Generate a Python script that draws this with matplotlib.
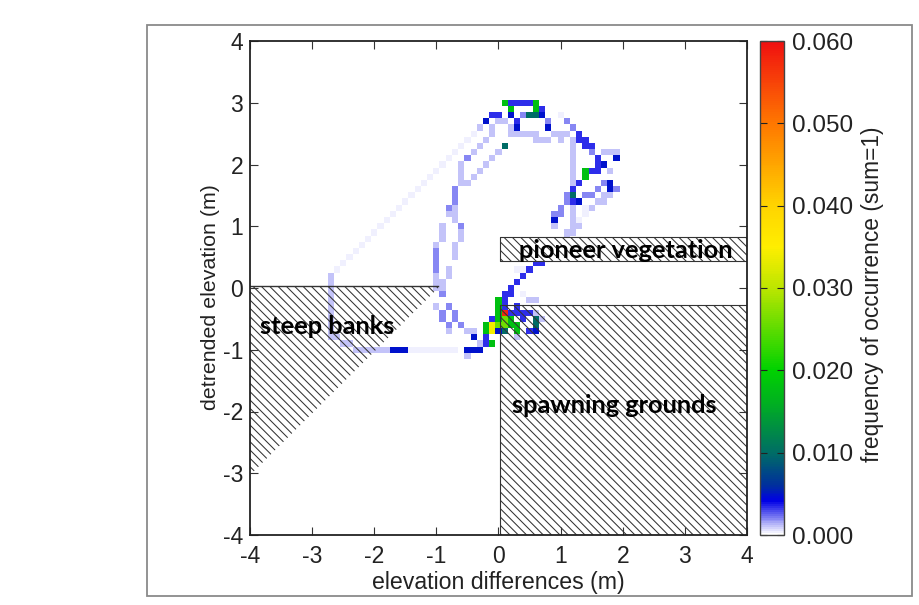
import numpy as np
import matplotlib
matplotlib.use("Agg")
import matplotlib.pyplot as plt
from matplotlib.colors import LinearSegmentedColormap, Normalize
from matplotlib.patches import Rectangle

plt.rcParams['font.family'] = ['Liberation Sans', 'DejaVu Sans']
plt.rcParams['hatch.linewidth'] = 0.75
plt.rcParams['axes.unicode_minus'] = False

x_ticks = [-4, -3, -2, -1, 0, 1, 2, 3, 4]
y_ticks = [-4, -3, -2, -1, 0, 1, 2, 3, 4]
cbar_ticks = [0.0, 0.01, 0.02, 0.03, 0.04, 0.05, 0.06]
cbar_labels = ['0.000', '0.010', '0.020', '0.030', '0.040', '0.050', '0.060']

# occurrence cells (x, y) grouped by frequency class
freq_faint = 0.0004
cells_faint = [(-2.6,.3),(-2.5,.4),(-2.4,.5),(-2.3,.6),(-2.2,.7),(-2.1,.8),(-2.0,.9),(-1.9,1.0),
               (-1.8,1.1),(-1.7,1.2),(-1.6,1.3),(-1.5,1.4),(-1.4,1.5),(-1.3,1.6),(-1.2,1.7),(-1.1,1.8),
               (-1.0,1.9),(-1.4,-1.0),(-1.3,-1.0),(-1.2,-1.0),(-1.1,-1.0),(-1.0,-1.0),(-.9,-1.0),(-.8,-1.0),
               (-.7,-1.0),(1.4,1.2),(1.3,1.1),(1.4,1.3),(.3,.3),(.4,.3),(.4,-.1),(.5,.5),(1.0,2.8),(-.4,2.5),
               (-.5,2.4),(-.6,2.3),(-.7,2.2),(-.8,2.1),(-.9,2.0)]
freq_light = 0.001
cells_light = [(-2.7,.2),(-2.7,.1),(-2.7,0),(-2.7,-.1),(-2.7,-.2),(-2.7,-.3),(-2.7,-.4),(-2.7,-.5),
               (-2.7,-.6),(-2.7,-.7),(-2.7,-.8),(-2.6,-.8),(-2.5,-.9),(-2.4,-.9),(-2.3,-1.0),(-2.2,-1.0),
               (-2.1,-1.0),(-2.0,-1.0),(-1.9,-1.0),(-1.8,-1.0),(-1.0,.2),(-1.0,.1),(-1.0,.0),(-1.0,-.3),
               (-.9,.1),(-.9,.0),(-.8,.3),(-.8,.2),(-.7,.6),(-.7,.5),(-.7,.7),(-.6,1.0),(-.6,.9),(-.6,.8),
               (-.9,1.0),(-.9,.9),(-.9,.8),(-1.0,.7),(-.8,-.7),(-.5,-.7),(-.4,-.7),(-.3,-.9),(-.5,-1.1),
               (-.6,1.9),(-.6,1.8),(-.6,1.7),(-.5,1.7),(-.7,1.6),(-.4,1.8),(-.3,1.9),(-.2,2.0),(-.1,2.1),(0,2.2),
               (-.4,2.2),(-.5,2.1),(-.6,2.0),(-.3,2.3),(-.2,2.4),(-.1,2.5),(-.3,2.6),(-.1,2.6),(.1,2.7),(0,2.7),
               (.2,2.6),(.2,2.5),(.3,2.5),(.4,2.5),(.5,2.5),(.6,2.5),(.6,2.4),(.7,2.4),(.8,2.4),(.9,2.5),
               (1.0,2.5),(1.1,2.5),(1.0,2.4),(1.2,2.4),(1.2,2.3),(1.2,2.2),(1.2,2.1),(1.2,2.0),(1.2,1.9),
               (1.2,1.8),(1.2,1.7),(1.2,1.3),(1.2,1.2),(1.2,1.1),(1.2,1.0),(1.3,1.0),(1.2,.9),(1.1,.9),
               (1.1,.8),(.9,1.0),(1.7,2.2),(1.8,2.2),(1.9,2.2),(1.8,1.9),(1.5,1.9),(1.7,1.7),(1.7,1.5),
               (1.8,1.5),(1.6,1.4),(1.7,1.4),(1.5,1.3),(.4,2.8),(.3,-.8),(.5,-.2),(.6,-.2),(.6,-.4),(.7,-.5),
               (-.7,1.3),(-.7,1.2),(-.8,1.2),(-.7,1.1)]
freq_mid = 0.002
cells_mid = [(-.7,1.6),(-.7,1.5),(-.7,1.4),(-.8,1.3),(-1.0,.6),(-1.0,.5),(-1.0,.4),(-1.0,.3),
             (-.9,-.1),(-.8,-.3),(-.9,-.4),(-.7,-.4),(-.9,-.5),(-.7,-.5),(-.8,-.6),(-.6,-.6),
             (-.5,2.1),(-.6,1.0),(.8,2.7),(1.1,2.7),(1.2,2.6),(1.5,2.2),(1.3,2.4),(1.4,1.5),(1.5,1.5),
             (1.6,1.6),(1.9,1.6),(1.1,1.5),(1.1,1.4),(1.0,1.3),(.9,1.2),(1.0,1.2),(.4,2.8),(1.7,1.7)]
freq_blue = 0.0035
cells_blue = [(.3,2.7),(.3,2.6),(1.3,2.5),(1.4,2.4),(1.3,2.4),(1.4,2.3),(1.5,2.3),(1.6,2.1),(1.6,2.0),
              (1.7,2.0),(1.5,1.9),(1.6,1.9),(1.3,1.7),(1.2,1.6),(1.2,1.4),(-.1,2.8),(0,2.8),(.2,3.0),
              (.3,3.0),(.4,3.0),(.5,3.0),(.7,2.9),(.3,-.3),(.2,-.4),(.3,-.4),(.4,-.4),(.5,-.4),(.1,-.2),
              (-.1,-.5),(.5,.3),(.6,.4),(.7,.4),(.8,.5),(.4,.2),(.3,.1),(.2,0),(.1,-.1),(.1,-.3),(.2,-.1),
              (.4,-.5),(.6,-.5),(.5,-.7),(-.2,-.9),(-.2,-.8)]
freq_dark = 0.0048
cells_dark = [(-1.7,-1.0),(-1.6,-1.0),(-1.5,-1.0),(-.5,-1.0),(-.4,-1.0),(-.3,-1.0),(-.4,-.8),(-.2,2.7),
              (.2,2.8),(.7,2.8),(.8,2.6),(1.9,2.1),(1.8,1.7),(1.8,1.6),(.9,1.1),(1.3,1.4),(1.7,2.0),
              (.6,-.7),(0,-.7),(.3,2.6)]
freq_teal = 0.01
cells_teal = [(.5,2.8),(.6,2.8),(.1,2.3),(1.2,1.5),(.1,-.7),(.6,-.6),(.6,-.5)]
freq_green = 0.018
cells_green = [(.1,3.0),(.2,2.9),(.6,2.9),(1.4,1.9),(1.4,1.8),(0,-.2),(0,-.3),(0,-.4),(0,-.5),
               (.2,-.5),(.2,-.6),(.3,-.6),(.3,-.7),(-.1,-.9),(-.2,-.6),(-.2,-.7),(.6,3.0)]
freq_lime = 0.026
cells_lime = [(.1,-.5),(.1,-.6),(0,-.6)]
freq_yellow = 0.034
cells_yellow = [(-.1,-.6),(-.1,-.7)]
freq_red = 0.058
cells_red = [(.1,-.4)]

# hatched classes (data limits)
bank_x = [-4, -0.97]
bank_top = [0.03, 0.03]
bank_bottom = [-3.03, 0.0]
pioneer_x = [0.02, 4]
pioneer_y = [0.43, 0.83]
spawning_x = [0.02, 4]
spawning_y = [-4, -0.27]

classes = [(freq_faint, cells_faint), (freq_light, cells_light), (freq_mid, cells_mid),
           (freq_blue, cells_blue), (freq_dark, cells_dark), (freq_teal, cells_teal),
           (freq_green, cells_green), (freq_lime, cells_lime), (freq_yellow, cells_yellow),
           (freq_red, cells_red)]

edges = np.arange(-81, 82, 2) / 20.0
grid = np.zeros((80 + 1, 80 + 1))
for freq, cells in classes:
    for cx, cy in cells:
        grid[int(round((cy + 4) * 10)), int(round((cx + 4) * 10))] = freq
grid = np.ma.masked_equal(grid, 0)

cmap = LinearSegmentedColormap.from_list('occ', [
    (0.0, '#ffffff'), (0.004/0.06, '#0000e6'), (0.006/0.06, '#00309c'), (0.01/0.06, '#006e64'),
    (0.016/0.06, '#00b020'), (0.02/0.06, '#00d200'), (0.03/0.06, '#bce600'),
    (0.035/0.06, '#ffee00'), (0.04/0.06, '#ffd400'), (0.05/0.06, '#ff7800'), (1.0, '#f01010')])
norm = Normalize(0, 0.06)

W, H = 920, 605
fig = plt.figure(figsize=(W/100, H/100), dpi=100, facecolor='white')
fig.add_artist(Rectangle((147/W, 1-596/H), (912-147)/W, (596-25)/H, transform=fig.transFigure,
                         fill=False, edgecolor='#8a8a8a', linewidth=1.3))
ax = fig.add_axes([250/W, 1-535/H, (747-250)/W, (535-41)/H])
mesh = ax.pcolormesh(edges, edges, grid, cmap=cmap, norm=norm, zorder=1, linewidth=0)

ink = '#333333'
H4 = '\\\\\\\\'
ax.fill_between(bank_x, bank_bottom, bank_top, facecolor='none', edgecolor=ink, hatch=H4, linewidth=0, zorder=2)
ax.plot(bank_x, bank_top, color=ink, lw=1.0, zorder=2)
ax.fill_between(spawning_x, spawning_y[0], spawning_y[1], facecolor='none', edgecolor=ink, hatch=H4, linewidth=0.8, zorder=2)
ax.fill_between(pioneer_x, pioneer_y[0], pioneer_y[1], facecolor='white', edgecolor=ink, hatch=H4, linewidth=0.8, zorder=2)

ax.set_xlim(-4, 4)
ax.set_ylim(-4, 4)
ax.set_xticks(x_ticks)
ax.set_yticks(y_ticks)
ax.tick_params(direction='in', top=True, right=True, length=6, width=0.8, color='#333333',
               labelsize=16.5, labelcolor='#222222', pad=5)
ax.tick_params(axis='x', pad=7)
for s in ax.spines.values():
    s.set_linewidth(1.3)
    s.set_color('#222222')
ax.set_xlabel('elevation differences (m)', fontsize=16.7, color='#222222', labelpad=2)
ax.set_ylabel('detrended elevation (m)', fontsize=15.4, color='#222222', labelpad=2, y=0.482)

bold = dict(family=['Lato', 'DejaVu Sans'], fontweight='bold', fontsize=18.3, color='black', va='center', zorder=5)
ax.text(-3.84, -0.62, 'steep banks', **bold)
ax.text(0.33, 0.61, 'pioneer vegetation', **bold)
ax.text(0.22, -1.9, 'spawning grounds', **bold)

cax = fig.add_axes([760/W, 1-535/H, 24/W, (535-41)/H])
cb = fig.colorbar(mesh, cax=cax)
cb.set_ticks(cbar_ticks)
cb.set_ticklabels(cbar_labels)
cb.ax.tick_params(direction='in', left=True, right=True, length=5, width=0.8, color='#222222',
                  labelsize=17.5, labelcolor='#222222', pad=6)
cb.outline.set_linewidth(1.0)
cb.outline.set_edgecolor('#444444')
cb.set_label('frequency of occurrence (sum=1)', fontsize=16.4, color='#222222', labelpad=5, y=0.488)

fig.savefig('out.png', dpi=100, facecolor='white')
